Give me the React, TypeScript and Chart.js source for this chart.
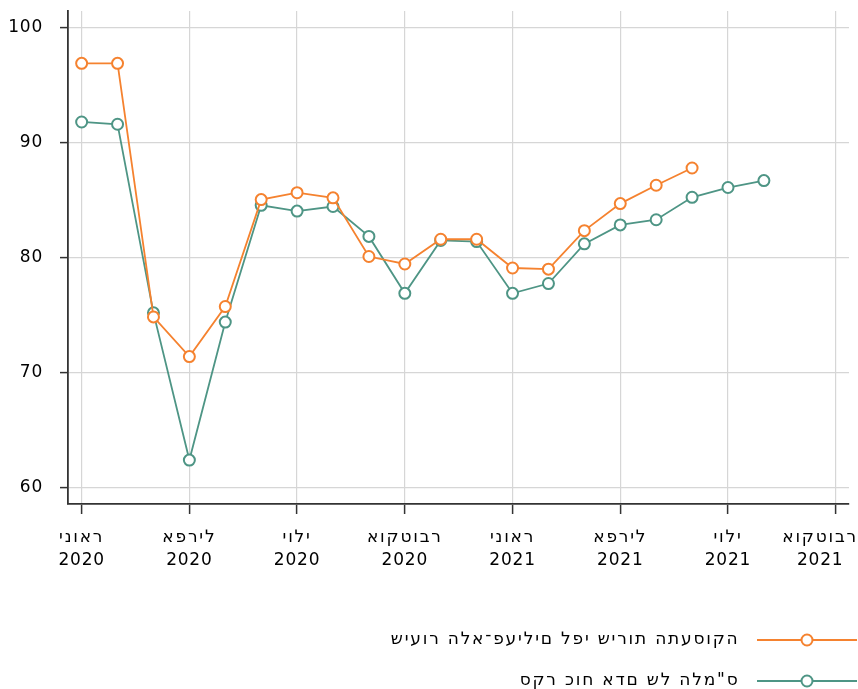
import React, { useEffect, useRef } from 'react';
import { Chart, registerables } from 'chart.js';

Chart.register(...registerables);

// x values: months counted from January 2020 (0 = ינואר 2020)
const employmentServiceMonths = [0, 1, 2, 3, 4, 5, 6, 7, 8, 9, 10, 11, 12, 13, 14, 15, 16, 17];
const employmentServiceValues = [96.9, 96.9, 74.85, 71.4, 75.75, 85.05, 85.65, 85.2, 80.1, 79.45, 81.6, 81.6, 79.1, 79.0, 82.35, 84.7, 86.3, 87.8];

const lfsMonths = [0, 1, 2, 3, 4, 5, 6, 7, 8, 9, 10, 11, 12, 13, 14, 15, 16, 17, 18, 19];
const lfsValues = [91.8, 91.6, 75.2, 62.4, 74.4, 84.55, 84.05, 84.45, 81.85, 76.9, 81.5, 81.4, 76.9, 77.75, 81.2, 82.85, 83.3, 85.25, 86.1, 86.7];

const tickMonthNames = ['ינואר', 'אפריל', 'יולי', 'אוקטובר'];
const tickYears = ['2020', '2021'];
const seriesLabels = ['שיעור הלא־פעילים לפי שירות התעסוקה', 'סקר כוח אדם של הלמ"ס'];

const ORANGE = '#f5822f';
const GREEN = '#4e9585';
const SANS = 'DejaVu Sans';
const FONT_SIZE = 17;
const HEBREW_SPACING = '1.8px';
const OTHER_SPACING = '0.8px';
const HEB = /[\u0590-\u05FF]/;

// the reference draws Hebrew glyphs in stored (left-to-right) order
const ltr = (s: string) => '\u202D' + s + '\u202C';

function patchTextSpacing(ctx: any) {
  const origFill = ctx.fillText;
  const origMeasure = ctx.measureText;
  const run = (self: any, text: string, fn: () => any) => {
    const heb = HEB.test(String(text));
    const font = self.font;
    self.save();
    self.letterSpacing = heb ? HEBREW_SPACING : OTHER_SPACING;
    if (heb) self.direction = 'rtl';
    self.font = font;
    const r = fn();
    self.restore();
    return r;
  };
  ctx.fillText = function (text: string, x: number, y: number, mw?: number) {
    return run(this, text, () =>
      mw === undefined ? origFill.call(this, text, x, y) : origFill.call(this, text, x, y, mw)
    );
  };
  ctx.measureText = function (text: string) {
    return run(this, text, () => origMeasure.call(this, text));
  };
}

function makeSwatch(color: string): HTMLCanvasElement {
  const c = document.createElement('canvas');
  c.width = 134;
  c.height = 16;
  const ctx = c.getContext('2d')!;
  ctx.strokeStyle = color;
  ctx.lineWidth = 2;
  ctx.beginPath();
  ctx.moveTo(33, 8);
  ctx.lineTo(133, 8);
  ctx.stroke();
  ctx.beginPath();
  ctx.arc(83, 8, 5.5, 0, Math.PI * 2);
  ctx.fillStyle = '#ffffff';
  ctx.fill();
  ctx.stroke();
  return c;
}

const clampLabelsPlugin = {
  id: 'clampLabels',
  beforeDraw(chart: any) {
    const scale = chart.scales.x;
    if (!scale || !scale.getLabelItems) return;
    const items = scale.getLabelItems(chart.chartArea);
    const ctx = chart.ctx;
    ctx.save();
    items.forEach((item: any) => {
      ctx.font = item.font.string;
      const lines = Array.isArray(item.label) ? item.label : [item.label];
      const w = Math.max(...lines.map((l: string) => ctx.measureText(l).width));
      const t = item.options.translation;
      if (t[0] + w / 2 > chart.width) t[0] = chart.width - w / 2;
    });
    ctx.restore();
  },
};

export default function App() {
  const ref = useRef<HTMLCanvasElement>(null);

  useEffect(() => {
    document.body.style.margin = '0';
    const canvas = ref.current!;
    patchTextSpacing(canvas.getContext('2d'));
    const swatches = [makeSwatch(ORANGE), makeSwatch(GREEN)];
    // leading spaces (invisible, left of the text) make the two legend entries wrap onto two rows
    const legendTexts = [ltr(seriesLabels[0]), ltr('        ' + seriesLabels[1])];
    const chart = new Chart(canvas, {
      type: 'line',
      data: {
        datasets: [
          {
            label: seriesLabels[0],
            data: employmentServiceMonths.map((m, i) => ({ x: m, y: employmentServiceValues[i] })),
            borderColor: ORANGE,
            backgroundColor: '#ffffff',
            pointBackgroundColor: '#ffffff',
            pointBorderColor: ORANGE,
            borderWidth: 1.8,
            pointRadius: 5.5,
            pointBorderWidth: 2,
          },
          {
            label: seriesLabels[1],
            data: lfsMonths.map((m, i) => ({ x: m, y: lfsValues[i] })),
            borderColor: GREEN,
            backgroundColor: '#ffffff',
            pointBackgroundColor: '#ffffff',
            pointBorderColor: GREEN,
            borderWidth: 1.8,
            pointRadius: 5.5,
            pointBorderWidth: 2,
          },
        ],
      },
      options: {
        animation: false,
        responsive: false,
        maintainAspectRatio: false,
        layout: { padding: { left: 0, right: 0, top: 11, bottom: -10.5 } },
        font: { family: SANS, size: FONT_SIZE },
        scales: {
          x: {
            type: 'linear',
            min: -0.38,
            max: 21.37,
            afterFit: (s: any) => {
              s.paddingLeft = 0;
              s.paddingRight = 9;
              s.height = 103.5;
            },
            ticks: {
              stepSize: 3,
              includeBounds: false,
              autoSkip: false,
              maxRotation: 0,
              padding: 12,
              color: '#000',
              font: { family: SANS, size: FONT_SIZE, lineHeight: 1.36 },
              callback: (v: any) => {
                const n = Number(v);
                return [ltr(tickMonthNames[(n / 3) % 4]), tickYears[Math.floor(n / 12)]];
              },
            },
            grid: { color: '#d6d6d6', lineWidth: 1.2, tickColor: '#333', tickLength: 10, tickWidth: 1.5 },
            border: { color: '#333', width: 1.8 },
          },
          y: {
            type: 'linear',
            min: 58.58,
            max: 101.45,
            afterFit: (s: any) => {
              s.width = 68;
              s.paddingTop = 0;
              s.paddingBottom = 0;
            },
            ticks: {
              stepSize: 10,
              includeBounds: false,
              padding: 17,
              color: '#000',
              font: { family: SANS, size: FONT_SIZE },
            },
            grid: { color: '#d6d6d6', lineWidth: 1.2, tickColor: '#333', tickLength: 8, tickWidth: 1.5 },
            border: { color: '#333', width: 1.8 },
          },
        },
        plugins: {
          tooltip: { enabled: false },
          legend: {
            position: 'bottom',
            align: 'start',
            rtl: true,
            textDirection: 'rtl',
            labels: {
              usePointStyle: true,
              pointStyleWidth: 86,
              padding: 24,
              color: '#000',
              font: { family: SANS, size: FONT_SIZE },
              generateLabels: (ch: any) =>
                ch.data.datasets.map((ds: any, i: number) => ({
                  text: legendTexts[i],
                  pointStyle: swatches[i],
                  fillStyle: 'transparent',
                  strokeStyle: 'transparent',
                  lineWidth: 0,
                  hidden: false,
                  datasetIndex: i,
                  fontColor: '#000',
                })),
            },
          },
        },
      },
      plugins: [clampLabelsPlugin],
    } as any);

    return () => chart.destroy();
  }, []);

  return (
    <div style={{ width: 858, height: 689 }}>
      <canvas ref={ref} width={858} height={689} style={{ display: 'block', width: 858, height: 689 }} />
    </div>
  );
}
